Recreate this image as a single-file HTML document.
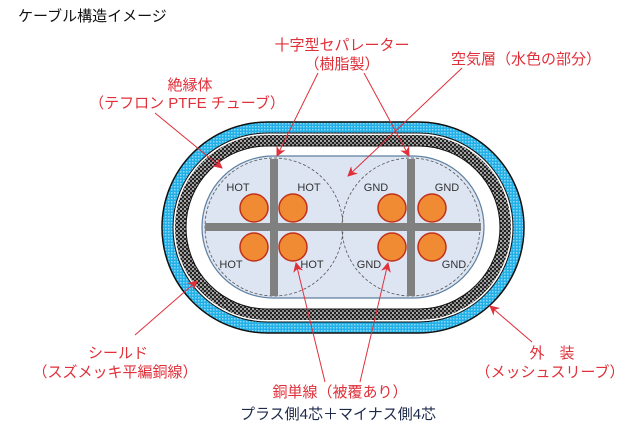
<!DOCTYPE html>
<html><head><meta charset="utf-8"><style>
html,body{margin:0;padding:0;background:#fff;}
svg{display:block;}
text{font-family:"Liberation Sans","Noto Sans CJK JP",sans-serif;}
</style></head><body>
<svg width="640" height="444" viewBox="0 0 640 444" xmlns="http://www.w3.org/2000/svg">
<defs>
<pattern id="blue" width="3" height="3" patternUnits="userSpaceOnUse">
<rect width="3" height="3" fill="#22b0e8"/><rect x="0" y="0" width="1.5" height="1.5" fill="#8fd8f5"/>
</pattern>
<pattern id="mesh" width="4" height="4" patternUnits="userSpaceOnUse">
<rect width="4" height="4" fill="#222"/><rect x="0" y="0" width="2" height="2" fill="#aaa"/><rect x="2" y="2" width="2" height="2" fill="#888"/>
</pattern>
<marker id="ar" markerWidth="10" markerHeight="10" refX="9" refY="5" orient="auto" markerUnits="userSpaceOnUse">
<path d="M0,0 L10,5 L0,10 L3,5 Z" fill="#e0303a"/>
</marker>
</defs>
<text x="18" y="21" font-size="15" fill="#111">ケーブル構造イメージ</text>

<rect x="162" y="122" width="362" height="211" rx="105.5" fill="url(#blue)" stroke="#111" stroke-width="1.5"/>
<rect x="173" y="133" width="340" height="189" rx="94.5" fill="#fff" stroke="#111" stroke-width="1"/>
<rect x="175" y="135" width="336" height="185" rx="92.5" fill="url(#mesh)"/>
<rect x="186" y="146" width="314" height="163" rx="81.5" fill="#fff" stroke="#111" stroke-width="1"/>
<rect x="202" y="156" width="282" height="142" rx="71" fill="#dde5f3" stroke="#5f7f9f" stroke-width="1.2"/>

<circle cx="274" cy="227" r="69" fill="none" stroke="#555" stroke-width="0.8" stroke-dasharray="3,2"/>
<circle cx="411" cy="227" r="69" fill="none" stroke="#555" stroke-width="0.8" stroke-dasharray="3,2"/>
<rect x="205" y="223" width="276" height="8" fill="#808080"/>
<rect x="270" y="159" width="8" height="137" fill="#808080"/>
<rect x="407" y="159" width="8" height="137" fill="#808080"/>

<g fill="#f08a33" stroke="#c0301a" stroke-width="1.5">
<circle cx="254" cy="208" r="14"/><circle cx="293" cy="208" r="14"/>
<circle cx="254" cy="247" r="14"/><circle cx="293" cy="247" r="14"/>
<circle cx="392" cy="208" r="14"/><circle cx="432" cy="208" r="14"/>
<circle cx="392" cy="247" r="14"/><circle cx="432" cy="247" r="14"/>
</g>
<g font-size="11" fill="#333" text-anchor="middle">
<text x="238" y="191">HOT</text><text x="309" y="191">HOT</text>
<text x="231" y="268">HOT</text><text x="312" y="268">HOT</text>
<text x="376" y="191">GND</text><text x="447" y="191">GND</text>
<text x="369" y="268">GND</text><text x="454" y="268">GND</text>
</g>

<g stroke="#e0303a" stroke-width="1" marker-end="url(#ar)">
<line x1="318" y1="73" x2="277" y2="156"/>
<line x1="364" y1="73" x2="409" y2="156"/>
<line x1="462" y1="68" x2="348" y2="176"/>
<line x1="155" y1="113" x2="222" y2="168"/>
<line x1="135" y1="335" x2="197" y2="281"/>
<line x1="532" y1="342" x2="490" y2="306"/>
<line x1="325" y1="382" x2="296" y2="263"/>
<line x1="360" y1="382" x2="388" y2="263"/>
</g>

<g font-size="15" fill="#e0303a" text-anchor="middle">
<text x="342" y="50">十字型セパレーター</text>
<text x="342" y="69">（樹脂製）</text>
<text x="526" y="64">空気層（水色の部分）</text>
<text x="190" y="90">絶縁体</text>
<text x="187" y="108">（テフロン PTFE チューブ）</text>
<text x="118" y="358">シールド</text>
<text x="115" y="377">（スズメッキ平編銅線）</text>
<text x="552" y="358">外　装</text>
<text x="550" y="377">（メッシュスリーブ）</text>
<text x="340" y="397">銅単線（被覆あり）</text>
</g>
<text x="338" y="419" font-size="15" fill="#1e2a4a" text-anchor="middle">プラス側4芯＋マイナス側4芯</text>
</svg>
</body></html>
